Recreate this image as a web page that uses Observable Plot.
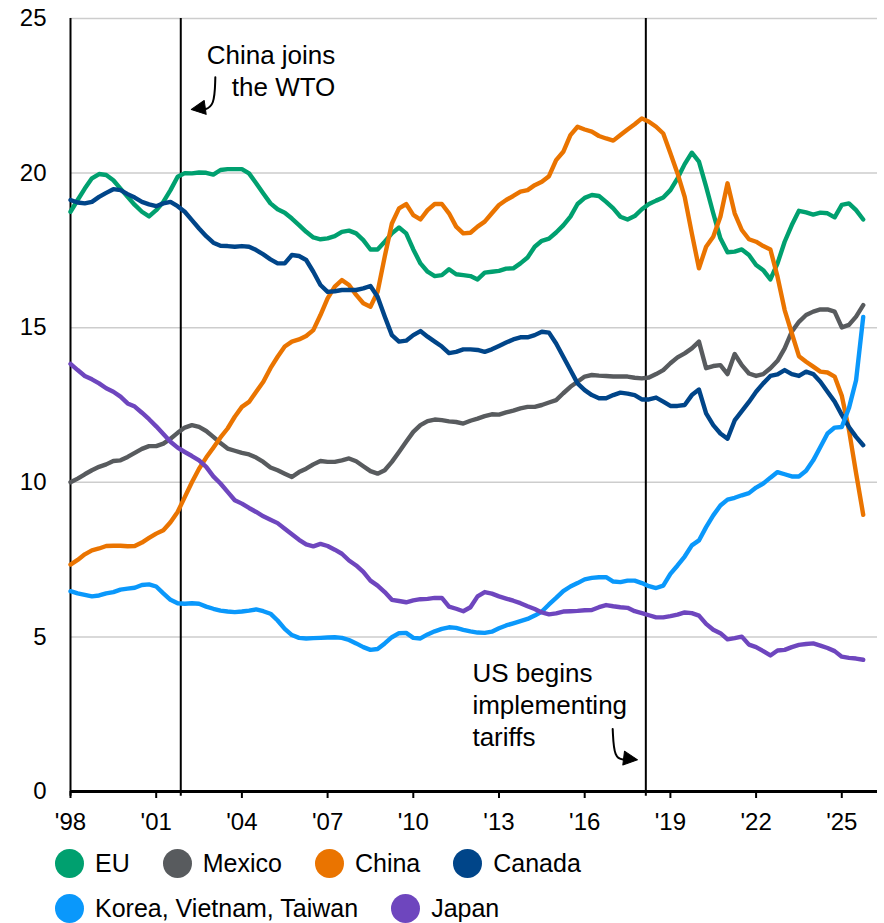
<!DOCTYPE html>
<html>
<head>
<meta charset="utf-8">
<script src="https://cdn.jsdelivr.net/npm/d3@7"></script>
<script src="https://cdn.jsdelivr.net/npm/@observablehq/plot@0.6"></script>
<style>
  html, body { margin: 0; padding: 0; background: #fff; }
  body { font-family: "Liberation Sans", Arial, sans-serif; color: #000; width: 884px; }
  #chart svg { display: block; }
  .legend { padding-left: 55px; }
  .row { display: flex; align-items: center; height: 36px; margin-bottom: 9px; }
  .item { display: flex; align-items: center; margin-right: 33px; font-size: 25px; }
  .sw { width: 29px; height: 29px; border-radius: 50%; margin-right: 11px; flex: none; }
</style>
</head>
<body>
<div id="chart"></div>
<div class="legend" id="legend"></div>
<script>
// ---- Data (share of US imports, %, quarterly 1998Q1 – 2025Q4) ----
const seriesNames = ["EU", "Mexico", "China", "Canada", "Korea, Vietnam, Taiwan", "Japan"];
const seriesColors = ["#00A06F", "#585B5E", "#EA7400", "#004589", "#0A98FB", "#6E46BE"];
const legendRows = [["EU", "Mexico", "China", "Canada"], ["Korea, Vietnam, Taiwan", "Japan"]];

const quarters = d3.range(112).map(i => 1998 + i / 4);

const eu = [
  18.75, 19.13, 19.5, 19.83, 19.97, 19.94, 19.77, 19.5, 19.23, 18.97, 18.75, 18.6,
  18.8, 19.07, 19.45, 19.88, 20.0, 19.99, 20.02, 20.01, 19.95, 20.1, 20.13, 20.13,
  20.13, 19.99, 19.67, 19.34, 19.02, 18.83, 18.72, 18.53, 18.32, 18.1, 17.92, 17.86,
  17.89, 17.96, 18.1, 18.14, 18.05, 17.83, 17.53, 17.53, 17.78, 18.05, 18.24, 18.05,
  17.53, 17.08, 16.81, 16.67, 16.7, 16.89, 16.73, 16.7, 16.67, 16.56, 16.78, 16.81,
  16.84, 16.91, 16.92, 17.08, 17.27, 17.62, 17.81, 17.88, 18.08, 18.31, 18.59, 19.0,
  19.2, 19.29, 19.26, 19.07, 18.86, 18.59, 18.5, 18.61, 18.83, 19.0, 19.11, 19.21,
  19.45, 19.83, 20.29, 20.66, 20.37, 19.56, 18.7, 17.89, 17.44, 17.46, 17.53, 17.35,
  17.03, 16.86, 16.56, 17.08, 17.78, 18.32, 18.78, 18.73, 18.66, 18.72, 18.7, 18.57,
  18.97, 19.02, 18.8, 18.5
];
const mexico = [
  10.0, 10.12, 10.26, 10.39, 10.5, 10.58, 10.69, 10.71, 10.82, 10.95, 11.08, 11.17,
  11.17, 11.25, 11.41, 11.6, 11.77, 11.85, 11.79, 11.66, 11.47, 11.27, 11.09, 11.02,
  10.95, 10.9, 10.8, 10.66, 10.48, 10.39, 10.28, 10.17, 10.33, 10.44, 10.58, 10.69,
  10.66, 10.66, 10.71, 10.77, 10.68, 10.52, 10.36, 10.28, 10.39, 10.66, 10.98, 11.31,
  11.63, 11.85, 11.98, 12.03, 12.01, 11.97, 11.95, 11.9, 11.99, 12.06, 12.14, 12.2,
  12.19, 12.26, 12.32, 12.39, 12.44, 12.44, 12.5, 12.58, 12.66, 12.88, 13.09, 13.25,
  13.42, 13.47, 13.45, 13.44, 13.42, 13.42, 13.42, 13.38, 13.36, 13.39, 13.5, 13.63,
  13.85, 14.04, 14.17, 14.33, 14.55, 13.69, 13.76, 13.79, 13.5, 14.15, 13.79, 13.52,
  13.44, 13.5, 13.69, 13.93, 14.33, 14.87, 15.19, 15.41, 15.52, 15.59, 15.59, 15.52,
  15.01, 15.09, 15.36, 15.73
];
const china = [
  7.34, 7.49, 7.67, 7.8, 7.86, 7.94, 7.95, 7.95, 7.93, 7.94, 8.05, 8.2,
  8.34, 8.45, 8.71, 9.04, 9.52, 10.0, 10.44, 10.8, 11.12, 11.45, 11.74, 12.12,
  12.44, 12.6, 12.93, 13.25, 13.69, 14.06, 14.39, 14.55, 14.62, 14.73, 14.92, 15.41,
  15.95, 16.33, 16.54, 16.38, 16.06, 15.79, 15.68, 16.16, 17.3, 18.37, 18.86, 19.0,
  18.64, 18.5, 18.8, 19.0, 19.0, 18.7, 18.27, 18.05, 18.07, 18.27, 18.43, 18.7,
  18.97, 19.13, 19.26, 19.4, 19.45, 19.61, 19.72, 19.9, 20.42, 20.69, 21.23, 21.5,
  21.41, 21.34, 21.2, 21.12, 21.05, 21.23, 21.41, 21.58, 21.77, 21.66, 21.5, 21.28,
  20.64, 19.99, 19.23, 18.05, 16.92, 17.62, 17.94, 18.59, 19.67, 18.7, 18.16, 17.86,
  17.78, 17.64, 17.53, 16.65, 15.57, 14.82, 14.08, 13.9, 13.74, 13.58, 13.55, 13.42,
  12.8, 11.7, 10.3, 8.95
];
const canada = [
  19.13, 19.05, 19.02, 19.07, 19.23, 19.36, 19.48, 19.45, 19.32, 19.21, 19.07, 18.99,
  18.93, 19.02, 19.07, 18.93, 18.75, 18.48, 18.21, 17.96, 17.75, 17.65, 17.64, 17.62,
  17.64, 17.62, 17.51, 17.37, 17.21, 17.08, 17.08, 17.35, 17.32, 17.19, 16.81, 16.38,
  16.16, 16.18, 16.22, 16.22, 16.22, 16.27, 16.35, 16.0, 15.36, 14.76, 14.55, 14.58,
  14.76, 14.89, 14.71, 14.55, 14.39, 14.18, 14.22, 14.3, 14.3, 14.28, 14.22, 14.3,
  14.41, 14.52, 14.62, 14.69, 14.69, 14.76, 14.87, 14.84, 14.49, 14.06, 13.63, 13.2,
  12.98, 12.82, 12.72, 12.72, 12.82, 12.9, 12.87, 12.82, 12.68, 12.68, 12.74, 12.61,
  12.47, 12.47, 12.5, 12.82, 13.0, 12.23, 11.85, 11.58, 11.41, 12.0, 12.3, 12.6,
  12.93, 13.2, 13.44, 13.49, 13.63, 13.5, 13.44, 13.58, 13.5, 13.25, 12.93, 12.61,
  12.18, 11.79, 11.47, 11.2
];
const korea = [
  6.48, 6.41, 6.36, 6.31, 6.34, 6.41, 6.45, 6.53, 6.56, 6.59, 6.68, 6.7,
  6.63, 6.41, 6.2, 6.09, 6.07, 6.09, 6.07, 5.98, 5.91, 5.85, 5.82, 5.8,
  5.82, 5.85, 5.89, 5.83, 5.75, 5.53, 5.26, 5.06, 4.97, 4.95, 4.96, 4.97,
  4.98, 4.99, 4.97, 4.9, 4.79, 4.67, 4.58, 4.61, 4.79, 4.99, 5.12, 5.13,
  4.97, 4.95, 5.08, 5.18, 5.26, 5.31, 5.29, 5.23, 5.18, 5.14, 5.13, 5.17,
  5.28, 5.37, 5.44, 5.51, 5.58, 5.69, 5.82, 6.05, 6.26, 6.48, 6.63, 6.74,
  6.86, 6.91, 6.93, 6.93, 6.79, 6.77, 6.82, 6.82, 6.74, 6.64, 6.58, 6.66,
  7.04, 7.31, 7.6, 7.96, 8.12, 8.55, 8.93, 9.25, 9.44, 9.5, 9.58, 9.65,
  9.83, 9.96, 10.15, 10.33, 10.26, 10.19, 10.19, 10.37, 10.71, 11.14, 11.58, 11.77,
  11.79, 12.4, 13.3, 15.35
];
const japan = [
  13.83, 13.63, 13.44, 13.33, 13.2, 13.04, 12.93, 12.77, 12.55, 12.45, 12.25, 12.04,
  11.81, 11.56, 11.31, 11.12, 10.98, 10.85, 10.71, 10.5, 10.19, 9.96, 9.69, 9.42,
  9.31, 9.17, 9.04, 8.9, 8.79, 8.68, 8.5, 8.32, 8.14, 7.99, 7.93, 8.01,
  7.94, 7.82, 7.69, 7.47, 7.31, 7.1, 6.82, 6.66, 6.45, 6.2, 6.16, 6.12,
  6.18, 6.22, 6.23, 6.26, 6.26, 5.98, 5.91, 5.83, 5.96, 6.31, 6.45, 6.4,
  6.31, 6.24, 6.17, 6.09, 5.99, 5.9, 5.79, 5.73, 5.76, 5.82, 5.83, 5.84,
  5.86, 5.87, 5.96, 6.03, 5.99, 5.96, 5.94, 5.83, 5.77, 5.7, 5.63, 5.63,
  5.67, 5.72, 5.79, 5.77, 5.69, 5.42, 5.23, 5.12, 4.92, 4.96, 5.01, 4.75,
  4.67, 4.54, 4.4, 4.56, 4.58, 4.67, 4.74, 4.77, 4.79, 4.72, 4.64, 4.54,
  4.36, 4.32, 4.3, 4.26
];

const xTicks = [1998, 2001, 2004, 2007, 2010, 2013, 2016, 2019, 2022, 2025];
const yTicks = [0, 5, 10, 15, 20, 25];
const eventYears = [1998, 2001.86, 2018.14];

// annotations (data coordinates: year, percent)
const noteTexts = ["China joins\nthe WTO", "US begins\nimplementing\ntariffs"];
const noteX = [2007.27, 2012.07];
const noteY = [24.26, 4.27];
const noteAnchor = ["end", "start"];
const wtoShaftX = [2003.07, 2003.04, 2002.65];
const wtoShaftY = [23.1, 22.15, 22.05];
const usShaftX = [2016.98, 2017.03, 2017.4];
const usShaftY = [2.02, 1.06, 1.03];
const headX = [2002.23, 2017.85];
const headY = [22.06, 1.025];
const headAngle = [262, 97];

// ---- build tables ----
const seriesValues = [eu, mexico, china, canada, korea, japan];
const data = seriesNames.flatMap((s, k) =>
  seriesValues[k].map((v, i) => ({ year: quarters[i], value: v, series: s })));
const notes = noteTexts.map((t, i) => ({ text: t, x: noteX[i], y: noteY[i], anchor: noteAnchor[i] }));
const shafts = [
  ...wtoShaftX.map((x, i) => ({ id: "wto", x, y: wtoShaftY[i] })),
  ...usShaftX.map((x, i) => ({ id: "us", x, y: usShaftY[i] }))
];
const heads = headX.map((x, i) => ({ x, y: headY[i], rotate: headAngle[i] }));

const headShape = {
  draw(ctx, l, r) {
    ctx.moveTo(0, -l);
    ctx.lineTo(-r, 0);
    ctx.lineTo(r, 0);
    ctx.closePath();
  }
};

const font = "Liberation Sans, Arial, sans-serif";

const chart = Plot.plot({
  width: 884,
  height: 845,
  marginLeft: 70,
  marginRight: 7,
  marginTop: 18,
  marginBottom: 54,
  style: { fontFamily: font, fontSize: "24px", color: "#000", background: "#fff", overflow: "visible" },
  x: { domain: [1998, 2026.25], label: null },
  y: { domain: [0, 25], label: null },
  color: { domain: seriesNames, range: seriesColors },
  marks: [
    Plot.gridY(yTicks.filter(d => d > 0), { stroke: "#cdcdcd", strokeOpacity: 1, strokeWidth: 1.5 }),
    Plot.axisX(xTicks, { tickFormat: d => "'" + String(d).slice(2), tickSize: 7, tickPadding: 14, fontSize: 24, strokeWidth: 2, label: null }),
    Plot.axisY(yTicks, { tickSize: 0, tickPadding: 24, fontSize: 24, label: null }),
    Plot.ruleX(eventYears, { y1: -0.15, y2: 25, stroke: "#000", strokeWidth: 2 }),
    Plot.ruleY([0], { stroke: "#000", strokeWidth: 3 }),
    Plot.line(data, { x: "year", y: "value", z: "series", stroke: "series", strokeWidth: 4.4, strokeLinejoin: "round", strokeLinecap: "round" }),
    Plot.text(notes.filter(d => d.anchor === "end"), { x: "x", y: "y", text: "text", textAnchor: "end", lineAnchor: "top", lineHeight: 1.23, fontSize: 26, fill: "#000" }),
    Plot.text(notes.filter(d => d.anchor === "start"), { x: "x", y: "y", text: "text", textAnchor: "start", lineAnchor: "top", lineHeight: 1.23, fontSize: 26, fill: "#000" }),
    Plot.line(shafts, { x: "x", y: "y", z: "id", curve: "basis", stroke: "#000", strokeWidth: 2 }),
    Plot.vector(heads, { x: "x", y: "y", rotate: "rotate", length: 14, r: 7, shape: headShape, anchor: "end", fill: "#000", stroke: "#000", strokeWidth: 1 })
  ]
});
document.getElementById("chart").appendChild(chart);

// ---- legend ----
const legend = document.getElementById("legend");
legendRows.forEach(row => {
  const r = document.createElement("div");
  r.className = "row";
  row.forEach(name => {
    const it = document.createElement("div");
    it.className = "item";
    const sw = document.createElement("span");
    sw.className = "sw";
    sw.style.background = seriesColors[seriesNames.indexOf(name)];
    const tx = document.createElement("span");
    tx.textContent = name;
    it.appendChild(sw);
    it.appendChild(tx);
    r.appendChild(it);
  });
  legend.appendChild(r);
});
</script>
</body>
</html>
